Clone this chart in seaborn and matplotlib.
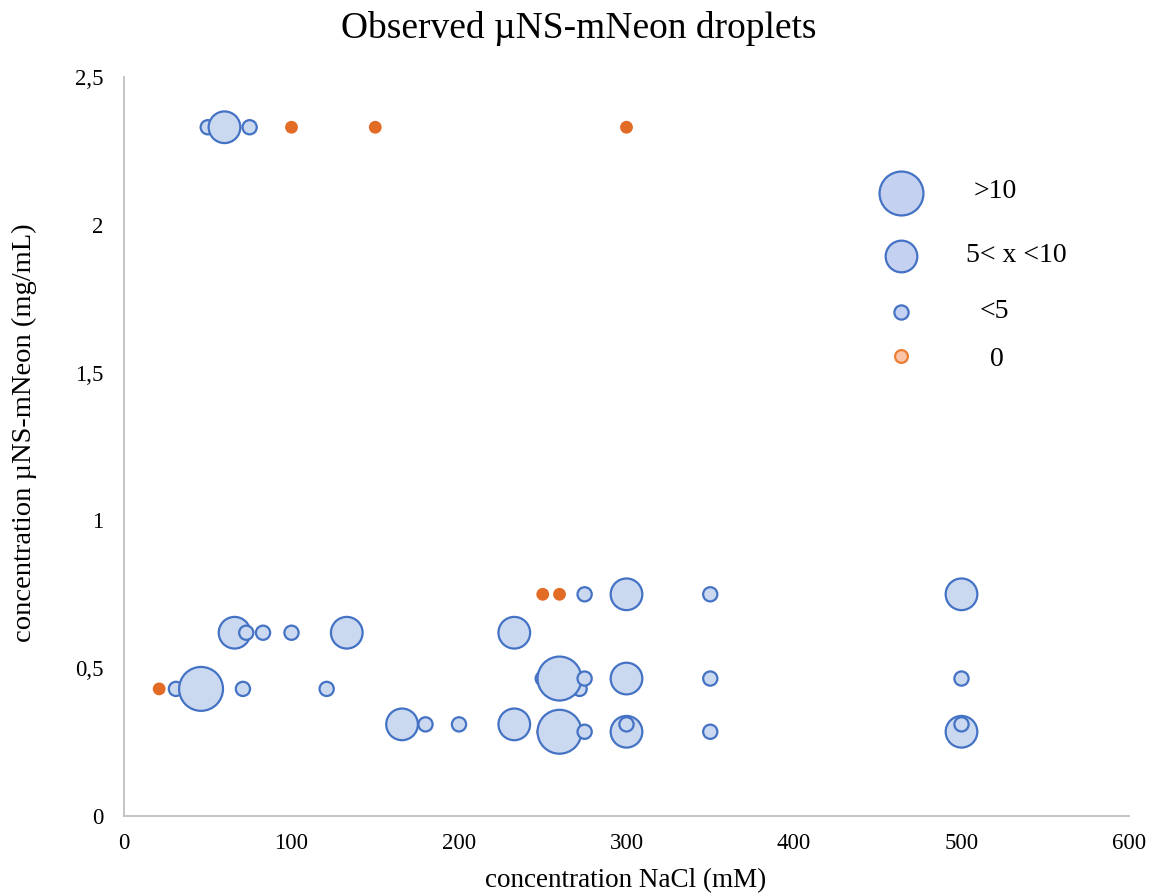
import matplotlib
matplotlib.use("Agg")
import matplotlib.pyplot as plt
import seaborn as sns
import pandas as pd

# ---------------- data ----------------
title = "Observed µNS-mNeon droplets"
x_label = "concentration NaCl (mM)"
y_label = "concentration µNS-mNeon (mg/mL)"

categories = [">10", "5< x <10", "<5", "0"]

# droplets observed (blue bubbles), in drawing order
blue_nacl = [50, 60, 75,
             275, 300, 350, 500,
             66, 73, 83, 100, 133, 233,
             31, 46, 71, 121, 272,
             250, 260, 275, 300, 350, 500,
             166, 180, 200, 233,
             260, 275, 300, 300, 350, 500, 500]
blue_conc = [2.33, 2.33, 2.33,
             0.75, 0.75, 0.75, 0.75,
             0.62, 0.62, 0.62, 0.62, 0.62, 0.62,
             0.43, 0.43, 0.43, 0.43, 0.43,
             0.465, 0.465, 0.465, 0.465, 0.465, 0.465,
             0.31, 0.31, 0.31, 0.31,
             0.285, 0.285, 0.285, 0.31, 0.285, 0.285, 0.31]
blue_cat = ["<5", "5< x <10", "<5",
            "<5", "5< x <10", "<5", "5< x <10",
            "5< x <10", "<5", "<5", "<5", "5< x <10", "5< x <10",
            "<5", ">10", "<5", "<5", "<5",
            "<5", ">10", "<5", "5< x <10", "<5", "<5",
            "5< x <10", "<5", "<5", "5< x <10",
            ">10", "<5", "5< x <10", "<5", "<5", "5< x <10", "<5"]

# no droplets (orange points)
zero_nacl = [100, 150, 300, 250, 260, 21, 250]
zero_conc = [2.33, 2.33, 2.33, 0.75, 0.75, 0.43, 0.285]
zero_cat = ["0"] * len(zero_nacl)

x_ticks = [0, 100, 200, 300, 400, 500, 600]
x_tick_labels = ["0", "100", "200", "300", "400", "500", "600"]
y_ticks = [0, 0.5, 1, 1.5, 2, 2.5]
y_tick_labels = ["0", "0,5", "1", "1,5", "2", "2,5"]

# ---------------- style ----------------
sns.set_theme(style="white")
plt.rcParams["font.family"] = ["Liberation Serif", "DejaVu Serif"]
plt.rcParams["text.color"] = "black"

marker_sizes = {">10": 1000, "5< x <10": 520, "<5": 105, "0": 85}
blue_face = "#cad8f0"
blue_edge = "#4472c4"
orange_face = "#e26b25"

fig = plt.figure(figsize=(11.57, 8.93), dpi=100)
ax = fig.add_axes([124 / 1157, 77 / 893, (1129 - 124) / 1157, (816 - 77) / 893])

df_zero = pd.DataFrame({"nacl": zero_nacl, "conc": zero_conc, "cat": zero_cat})
df_blue = pd.DataFrame({"nacl": blue_nacl, "conc": blue_conc, "cat": blue_cat})

sns.scatterplot(data=df_zero, x="nacl", y="conc", size="cat", sizes=marker_sizes,
                color=orange_face, edgecolor="none", linewidth=0, legend=False,
                ax=ax, zorder=3)
sns.scatterplot(data=df_blue, x="nacl", y="conc", size="cat", sizes=marker_sizes,
                color=blue_face, edgecolor=blue_edge, linewidth=1.6, legend=False,
                ax=ax, zorder=4)

ax.set_xlim(0, 600)
ax.set_ylim(0, 2.5)
ax.set_xticks(x_ticks)
ax.set_xticklabels(x_tick_labels)
ax.set_yticks(y_ticks)
ax.set_yticklabels(y_tick_labels)
ax.tick_params(axis="both", length=0, labelsize=16.5, colors="#000000")
ax.tick_params(axis="x", pad=12)
ax.tick_params(axis="y", pad=15)
ax.set_xlabel("")
ax.set_ylabel("")
ax.grid(False)
for side in ["top", "right"]:
    ax.spines[side].set_visible(False)
for side in ["left", "bottom"]:
    ax.spines[side].set_color("#bfbfbf")
    ax.spines[side].set_linewidth(1.3)

fig.text(0.5, 1 - 28 / 893, title, ha="center", va="center", fontsize=27,
         color="black")
fig.text(626 / 1157, 1 - 881 / 893, x_label, ha="center", va="center",
         fontsize=19.5, color="black")
fig.text(24 / 1157, 1 - 433 / 893, y_label, ha="center", va="center",
         fontsize=20.5, rotation=90, color="black")

# ---------------- legend (manual, figure coords) ----------------
leg_ax = fig.add_axes([0, 0, 1, 1], facecolor="none")
leg_ax.set_xlim(0, 1157)
leg_ax.set_ylim(893, 0)
leg_ax.axis("off")
leg_marker_y = [193, 256, 312, 356]
leg_text_y = [191, 255, 312, 360]
leg_text_x = [995, 1016, 994, 997]
leg_face = ["#c5d1f0", "#c5d1f0", "#c5d1f0", "#f9c4a8"]
leg_edge = [blue_edge, blue_edge, blue_edge, "#ed7d31"]
for cat, my, ty, tx, fc, ec in zip(categories, leg_marker_y, leg_text_y,
                                   leg_text_x, leg_face, leg_edge):
    leg_ax.scatter([901], [my], s=marker_sizes[cat], color=fc, edgecolor=ec,
                   linewidth=1.6)
    leg_ax.text(tx, ty, cat, ha="center", va="center", fontsize=20,
                color="black")

fig.savefig("out.png", dpi=100)
